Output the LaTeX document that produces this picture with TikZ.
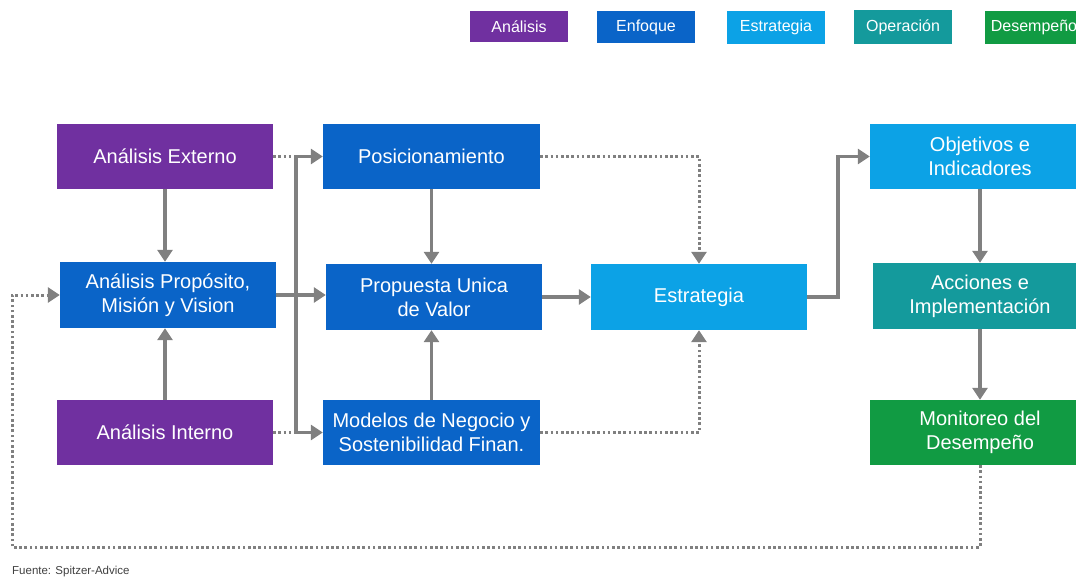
\documentclass[tikz,border=0pt]{standalone}
\usepackage{fontspec}
\setmainfont{Liberation Sans}
\usetikzlibrary{arrows.meta}
\definecolor{cAna}{HTML}{7030A0}
\definecolor{cEnf}{HTML}{0A64C8}
\definecolor{cEst}{HTML}{0CA2E6}
\definecolor{cOpe}{HTML}{149A9C}
\definecolor{cDes}{HTML}{119B43}
\definecolor{cLine}{HTML}{808080}
\tikzset{
  box/.style={draw=none, text=white, align=center, inner sep=0pt,
    font=\fontsize{20}{24}\selectfont},
  legbox/.style={draw=none, text=white, align=center, inner sep=0pt,
    minimum width=98pt, font=\fontsize{16}{18}\selectfont},
  conn/.style={draw=cLine, line width=3.4pt},
  tip/.style={-{Triangle[length=12pt,width=15pt]}},
  arr/.style={conn, tip},
  dots/.style={conn, line width=3pt, dash pattern=on 2.6pt off 2.6pt},
}
\begin{document}
\begin{tikzpicture}[x=1pt,y=-1pt]
\useasboundingbox (0,0) rectangle (1076,580);
% legend
\node[legbox, fill=cAna, minimum height=31pt] (lA) at (519,26.5) {Análisis};
\node[legbox, fill=cEnf, minimum height=32pt] (lE) at (646,27) {Enfoque};
\node[legbox, fill=cEst, minimum height=33pt] (lS) at (776,27.5) {Estrategia};
\node[legbox, fill=cOpe, minimum height=34pt] (lO) at (903,27) {Operación};
\node[legbox, fill=cDes, minimum height=33pt] (lD) at (1034,27.5) {Desempeño};
% boxes
\node[box, fill=cAna, minimum width=216pt, minimum height=65pt] (AE) at (165,156.5) {Análisis Externo};
\node[box, fill=cEnf, minimum width=216pt, minimum height=66pt] (AP) at (168,295) {Análisis Propósito,\\Misión y Vision};
\node[box, fill=cAna, minimum width=216pt, minimum height=65pt] (AI) at (165,432.5) {Análisis Interno};
\node[box, fill=cEnf, minimum width=217pt, minimum height=65pt] (POS) at (431.5,156.5) {Posicionamiento};
\node[box, fill=cEnf, minimum width=216pt, minimum height=66pt] (PU) at (434,297) {Propuesta Unica\\de Valor};
\node[box, fill=cEnf, minimum width=217pt, minimum height=65pt] (MOD) at (431.5,432.5) {Modelos de Negocio y\\Sostenibilidad Finan.};
\node[box, fill=cEst, minimum width=216pt, minimum height=66pt] (EST) at (699,297) {Estrategia};
\node[box, fill=cEst, minimum width=220pt, minimum height=65pt] (OBJ) at (980,156.5) {Objetivos e\\Indicadores};
\node[box, fill=cOpe, minimum width=214pt, minimum height=66pt] (ACC) at (980,296) {Acciones e\\Implementación};
\node[box, fill=cDes, minimum width=220pt, minimum height=65pt] (MON) at (980,432.5) {Monitoreo del\\Desempeño};
% footnote
\node[anchor=west, inner sep=0pt, text=black!75, font=\fontsize{11.5}{13}\selectfont] (src) at (12,572) {Fuente: Spitzer-Advice};
% coordinates
\coordinate (b1) at (296,156.5);
\coordinate (b3) at (296,432.5);
\coordinate (eb) at (838,297);
\coordinate (lb) at (12,547);
% connectors
\draw[dots] (AE.east) -- (b1);
\draw[dots] (AI.east) -- (b3);
\draw[conn] (b1) -- (b3);
\draw[arr] (b1) -- (POS.west);
\draw[arr] (b3) -- (MOD.west);
\draw[arr] (AP.east) -- (AP.east -| PU.west);
\draw[arr] (AE.south) -- (AE.south |- AP.north);
\draw[arr] (AI.north) -- (AI.north |- AP.south);
\draw[arr] (POS.south) -- (POS.south |- PU.north);
\draw[arr] (MOD.north) -- (MOD.north |- PU.south);
\draw[arr] (PU.east) -- (EST.west);
\draw[dots, tip] (POS.east) -| (EST.north);
\draw[dots, tip] (MOD.east) -| (EST.south);
\draw[arr] (EST.east) -- (eb) |- (OBJ.west);
\draw[arr] (OBJ.south) -- (ACC.north);
\draw[arr] (ACC.south) -- (MON.north);
\draw[dots, tip] (MON.south) |- (lb) |- (AP.west);
\end{tikzpicture}
\end{document}
